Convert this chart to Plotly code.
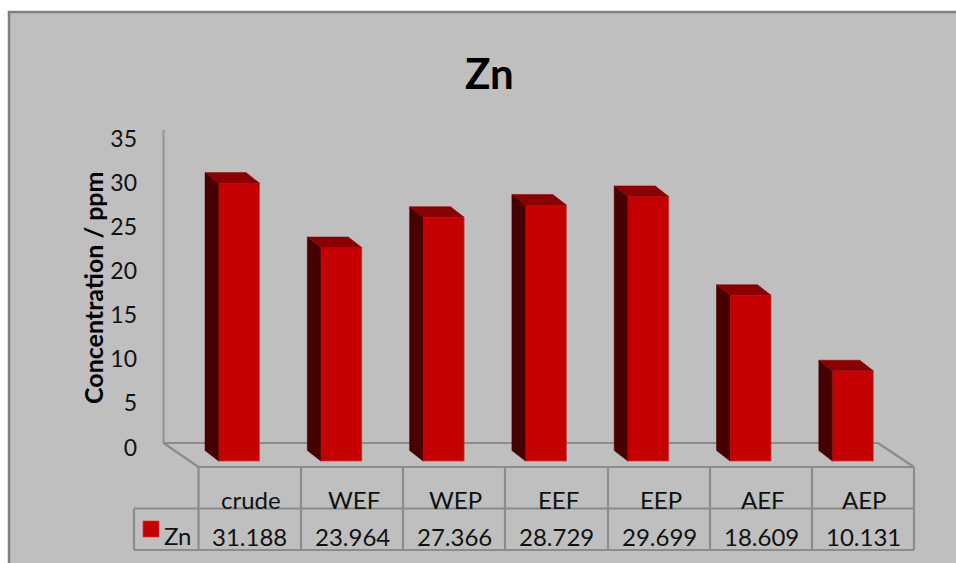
import plotly.graph_objects as go

# Zinc concentration per extract
categories = ["crude", "WEF", "WEP", "EEF", "EEP", "AEF", "AEP"]
zn_values = [31.188, 23.964, 27.366, 28.729, 29.699, 18.609, 10.131]
tick_values = [0, 5, 10, 15, 20, 25, 30, 35]

W, H = 956, 563
FONT = "Lato, Carlito, Calibri, sans-serif"
GRID = "#8c8c8c"
PANEL = "#bfbfbf"
FRONT = "#c40000"
TOP = "#8b0000"
SIDE = "#470000"

# Layout of the oblique projection, in page pixels
FIRST_BAR_X = 239
PITCH = 102.3
BAR_PX = 41
FRONT_ZERO_Y = 461
FRONT_UNIT = 8.91
DEPTH_X = 13.5
DEPTH_Y = 10.5
TICK_ZERO_Y = 447.5
TICK_UNIT = 8.83


def px(x):
    return x / W


def py(y):
    return 1 - y / H


x_range = [(0 - FIRST_BAR_X) / PITCH, (W - FIRST_BAR_X) / PITCH]
front_range = [(FRONT_ZERO_Y - H) / FRONT_UNIT, FRONT_ZERO_Y / FRONT_UNIT]
tick_range = [(TICK_ZERO_Y - H) / TICK_UNIT, TICK_ZERO_Y / TICK_UNIT]

half = BAR_PX / 2 / PITCH
dx = DEPTH_X / PITCH
dy = DEPTH_Y / FRONT_UNIT

fig = go.Figure()

# Front faces of the columns
fig.add_trace(go.Bar(
    x=list(range(len(categories))), y=zn_values, width=BAR_PX / PITCH,
    marker=dict(color=FRONT, line=dict(color="#cf3a3a", width=0.7)),
    yaxis="y2", showlegend=False, hoverinfo="skip",
))

# Side and top faces of the columns
for i, v in enumerate(zn_values):
    left, right = i - half, i + half
    fig.add_trace(go.Scatter(
        x=[left, left, left - dx, left - dx, left],
        y=[0, v, v + dy, dy, 0],
        mode="lines", fill="toself", fillcolor=SIDE,
        line=dict(color=SIDE, width=0.5),
        yaxis="y2", showlegend=False, hoverinfo="skip",
    ))
    fig.add_trace(go.Scatter(
        x=[left, right, right - dx, left - dx, left],
        y=[v, v, v + dy, v + dy, v],
        mode="lines", fill="toself", fillcolor=TOP,
        line=dict(color=TOP, width=0.5),
        yaxis="y2", showlegend=False, hoverinfo="skip",
    ))

# Invisible trace keeps the tick axis alive
fig.add_trace(go.Scatter(
    x=[0], y=[0], mode="markers", marker=dict(opacity=0),
    yaxis="y", showlegend=False, hoverinfo="skip",
))


def line(x0, y0, x1, y1, color=GRID, width=2.2, layer="below"):
    return dict(type="line", xref="paper", yref="paper", layer=layer,
                x0=px(x0), y0=py(y0), x1=px(x1), y1=py(y1),
                line=dict(color=color, width=width))


shapes = [
    # Chart panel and its border
    dict(type="rect", xref="paper", yref="paper", layer="below",
         x0=px(9), y0=py(12), x1=1.01, y1=-0.01,
         fillcolor=PANEL, line=dict(color="#7f7f7f", width=2.5)),
    # Back wall axis and floor outline
    line(163.5, 130, 163.5, 443, "#999999", 2.4),
    line(163.5, 443, 878, 443),
    line(163.5, 443, 198.5, 467),
    line(878, 443, 914, 467),
    # Data table rules
    line(198.5, 467, 914, 467),
    line(134, 508.5, 914, 508.5),
    line(134, 550, 914, 550),
    line(134, 508.5, 134, 550),
]
column_edges = [198.5, 301, 403, 505, 608, 710, 812, 914]
for edge in column_edges:
    shapes.append(line(edge, 467, edge, 550))
# Legend key in the data table
shapes.append(dict(type="rect", xref="paper", yref="paper", layer="above",
                   x0=px(143), y0=py(521), x1=px(159), y1=py(537),
                   fillcolor=FRONT, line=dict(color="#cf3a3a", width=0.7)))


def label(text, x, y, size, color="#111111", angle=0):
    return dict(text=text, xref="paper", yref="paper", x=px(x), y=py(y),
                xanchor="center", yanchor="middle", textangle=angle,
                showarrow=False, font=dict(family=FONT, size=size, color=color))


annotations = [
    label("<b>Zn</b>", 489, 73, 42, "black"),
    label("<b>Concentration / ppm</b>", 93, 288, 25, "black", -90),
    label("Zn", 178, 535, 24),
]
for i, (name, value) in enumerate(zip(categories, zn_values)):
    cx = (column_edges[i] + column_edges[i + 1]) / 2
    annotations.append(label(name, cx + 1.5, 499.5, 24))
    annotations.append(label(f"{value:.3f}", cx, 536, 24))

fig.update_layout(
    width=W, height=H,
    margin=dict(l=0, r=0, t=0, b=0),
    paper_bgcolor="white", plot_bgcolor="rgba(0,0,0,0)",
    shapes=shapes, annotations=annotations, showlegend=False,
    xaxis=dict(range=x_range, domain=[0, 1], visible=False, fixedrange=True),
    yaxis=dict(range=tick_range, domain=[0, 1], anchor="free", position=px(137),
               tickvals=tick_values, ticklen=0, showline=False, showgrid=False,
               zeroline=False, fixedrange=True,
               tickfont=dict(family=FONT, size=23, color="#111111")),
    yaxis2=dict(range=front_range, domain=[0, 1], overlaying="y", visible=False,
                fixedrange=True),
)

fig.write_html("out.html", config=dict(displayModeBar=False))
